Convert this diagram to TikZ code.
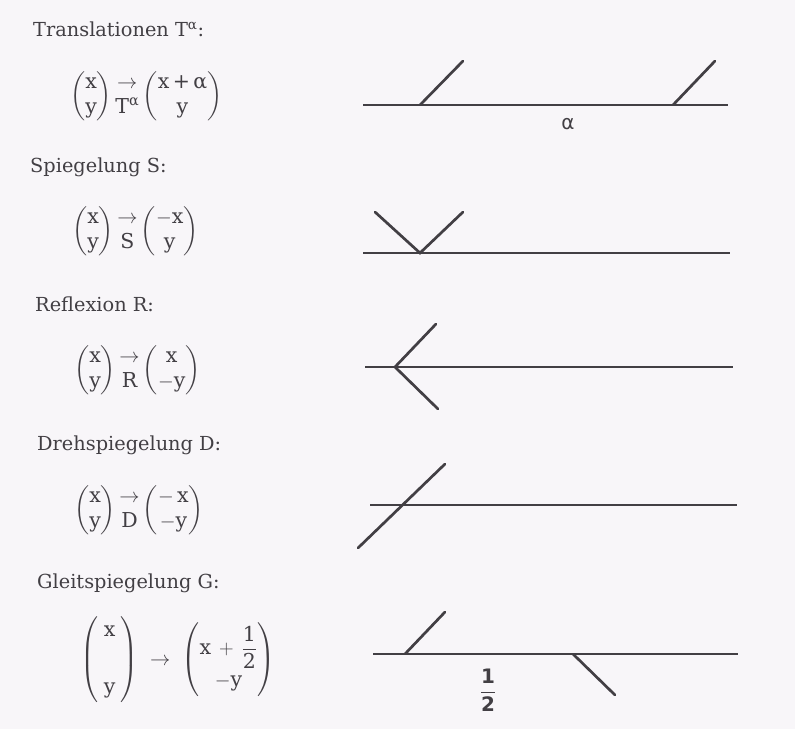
\documentclass[tikz,border=0pt]{standalone}
\usepackage{amsmath,amssymb}
\usepackage{fontspec}
\setmainfont{DejaVu Serif}
\setsansfont{DejaVu Sans}
\usepackage{xcolor}
\usepackage{tikz}
\usetikzlibrary{positioning}
\definecolor{ink}{RGB}{66,63,68}
\definecolor{paper}{RGB}{248,246,249}
\newcommand{\vek}[2]{\begin{pmatrix}\text{#1}\\\text{#2}\end{pmatrix}}
\newcommand{\pfeil}[1]{\begin{matrix}\rightarrow\\\text{#1}\end{matrix}}

\begin{document}
\begin{tikzpicture}[
  x=0.3mm, y=-0.3mm,
  font=\fontsize{16.5}{20}\selectfont,
  titel/.style={anchor=base west, inner sep=0pt, text=ink},
  formel/.style={anchor=west, inner sep=0pt, text=ink, font=\fontsize{17.5}{21}\selectfont},
  achse/.style={draw=ink, line width=2.3pt},
  marke/.style={draw=ink, line width=2.3pt, line cap=round},
  mass/.style={inner sep=0pt, text=ink, font=\fontsize{17}{20}\sffamily}
]
\fill[paper] (0,0) rectangle (795,729);
\useasboundingbox (0,0) rectangle (795,729);
% Zeile 1
\node[titel] (t1) at (33,37) {Translationen T\textsuperscript{α}:};
\node[formel] (f1) at (70,96) {$\vek{x}{y}\pfeil{T\textsuperscript{α}}\vek{x\,+\,α}{y}$};
\draw[achse] (363,105) -- (728,105);
\draw[marke] (420,105) -- (463,61);
\draw[marke] (673,105) -- (715,61);
\node[mass] (a1) at (568,124) {α};
% Zeile 2
\node[titel] (t2) at (30,173) {Spiegelung S:};
\node[formel] (f2) at (72,231) {$\vek{x}{y}\pfeil{S}\vek{$-$x}{y}$};
\draw[achse] (363,253) -- (730,253);
\draw[marke] (375,212) -- (420,253) -- (463,212);
% Zeile 3
\node[titel] (t3) at (35,312) {Reflexion R:};
\node[formel] (f3) at (74,370) {$\vek{x}{y}\pfeil{R}\vek{x}{$-$y}$};
\draw[achse] (365,367) -- (733,367);
\draw[marke] (436,324) -- (395,367) -- (438,409);
% Zeile 4
\node[titel] (t4) at (37,450) {Drehspiegelung D:};
\node[formel] (f4) at (74,510) {$\vek{x}{y}\pfeil{D}\vek{$-$\,x}{$-$y}$};
\draw[achse] (370,505) -- (737,505);
\draw[marke] (358,548) -- (445,464);
% Zeile 5
\node[titel] (t5) at (37,588) {Gleitspiegelung G:};
\node[formel] (f5) at (80,660) {$\begin{pmatrix}\;\text{x}\;\\[28pt]\text{y}\end{pmatrix}\;\rightarrow\;\begin{pmatrix}\text{x}\,+\,\dfrac{\text{1}}{\text{2}}\\[6pt]-\text{y}\end{pmatrix}$};
\draw[achse] (373,654) -- (738,654);
\draw[marke] (405,654) -- (445,612);
\draw[marke] (573,654) -- (615,695);
\node[mass] (h5) at (488,690) {$\dfrac{\textbf{1}}{\textbf{2}}$};
\end{tikzpicture}
\end{document}
